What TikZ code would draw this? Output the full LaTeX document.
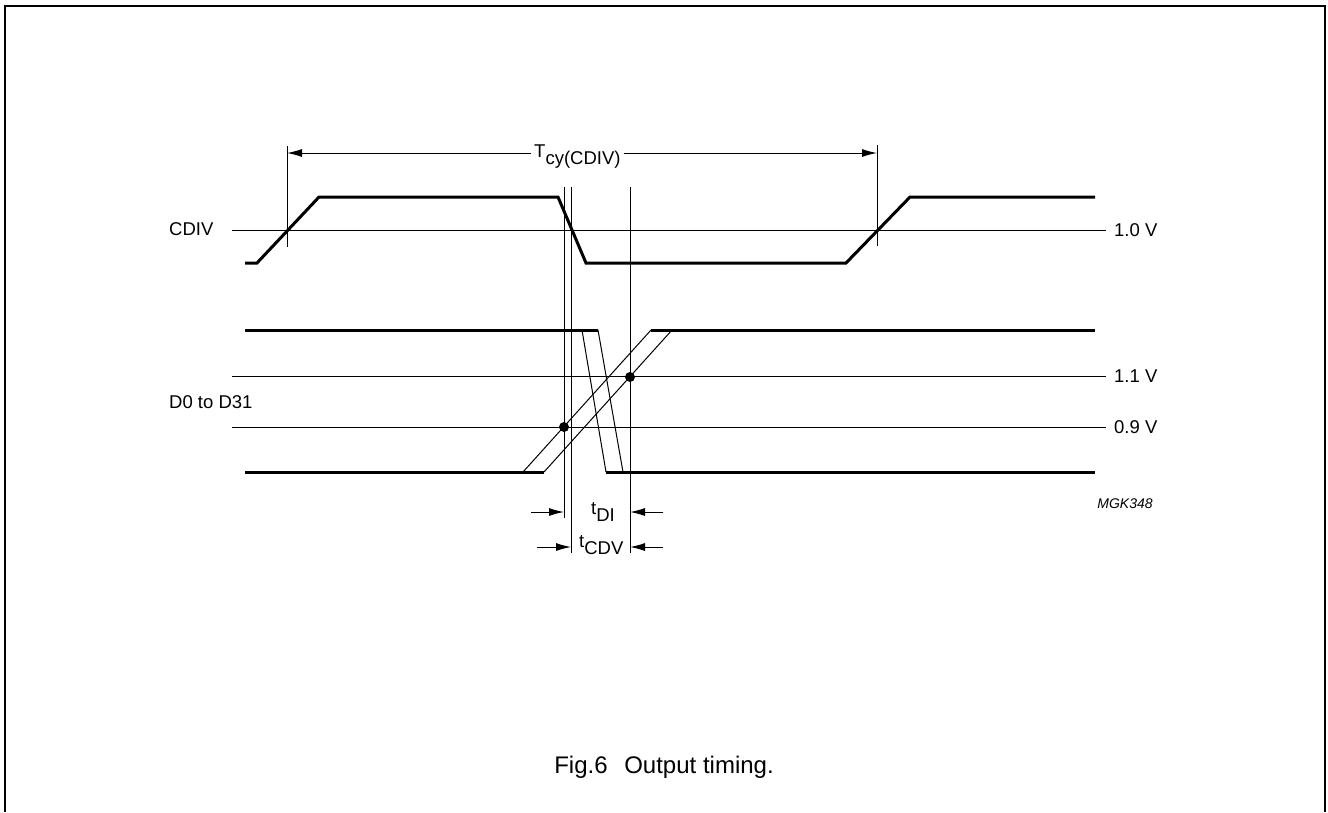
\documentclass[tikz,border=0pt]{standalone}
\usepackage{fontspec}
\setmainfont{Liberation Sans}
\usetikzlibrary{arrows.meta}

\newcommand{\lowsub}[1]{\raisebox{-7pt}{#1}}

\begin{document}
\begin{tikzpicture}[x=1pt,y=-1pt,
  every node/.style={inner sep=0pt,font=\fontsize{18.5}{22}\selectfont},
  sig/.style={line width=3pt,line join=miter},
  thin line/.style={line width=1pt},
  dimarrow/.style={line width=1pt,-{Latex[length=15pt,width=8pt]}}]
\useasboundingbox (0,0) rectangle (1328,812);
\draw[line width=2pt] (5,812) -- (5,6) -- (1325,6) -- (1325,812);

% threshold levels
\foreach \y/\v in {230/1.0, 376/1.1, 427/0.9}{
  \draw[thin line] (232,\y) -- (1106,\y);
  \node[anchor=west] (lvl\v) at (1114,\y) {\v\ V};
}
\node[anchor=west] (cdiv) at (169,229) {CDIV};
\node[anchor=west] (data) at (169,402) {D0 to D31};

% CDIV
\draw[sig] (245,263) -- (257,263) -- (319,197) -- (558,197) -- (586,263)
  -- (846,263) -- (910,197) -- (1095,197);

% D0 to D31
\draw[sig] (245,330) -- (598,330);
\draw[sig] (245,472) -- (544,472);
\draw[sig] (651,330) -- (1095,330);
\draw[sig] (606,472) -- (1095,472);
\foreach \a/\b in {582/606, 598/623}
  \draw[thin line] (\a,330) -- (\b,472);
\foreach \a/\b in {523/651, 544/672}
  \draw[thin line] (\a,472) -- (\b,330);
\fill (564,427) circle[radius=5pt];
\fill (630,377) circle[radius=5pt];

% reference lines
\foreach \x/\a/\b in {287/146/247, 877/145/246, 564/187/518, 571/187/553, 630/187/553}
  \draw[thin line] (\x,\a) -- (\x,\b);

% cycle time
\node[anchor=base west,inner sep=3pt] (tcy) at (531,157) {T\lowsub{cy(CDIV)}};
\coordinate (cyL) at (287,153);
\coordinate (cyR) at (877,153);
\draw[dimarrow] (tcy.west |- cyL) -- (cyL);
\draw[dimarrow] (tcy.east |- cyR) -- (cyR);

% tDI and tCDV
\node[anchor=base west] (tdi) at (591,514) {t\lowsub{DI}};
\node[anchor=base west] (tcdv) at (579,547) {t\lowsub{CDV}};
\coordinate (diL) at (564,512);
\coordinate (diR) at (630,512);
\coordinate (cdvL) at (571,547);
\coordinate (cdvR) at (630,547);
\draw[dimarrow] (531,512) -- (diL);
\draw[dimarrow] (663,512) -- (diR);
\draw[dimarrow] (537,547) -- (cdvL);
\draw[dimarrow] (663,547) -- (cdvR);

\node[font=\fontsize{14}{16}\selectfont\itshape] (ref) at (1125,504) {MGK348};
\node[font=\fontsize{24}{27}\selectfont] (cap) at (664,767) {Fig.6\hspace{10pt} Output timing.};
\end{tikzpicture}
\end{document}
